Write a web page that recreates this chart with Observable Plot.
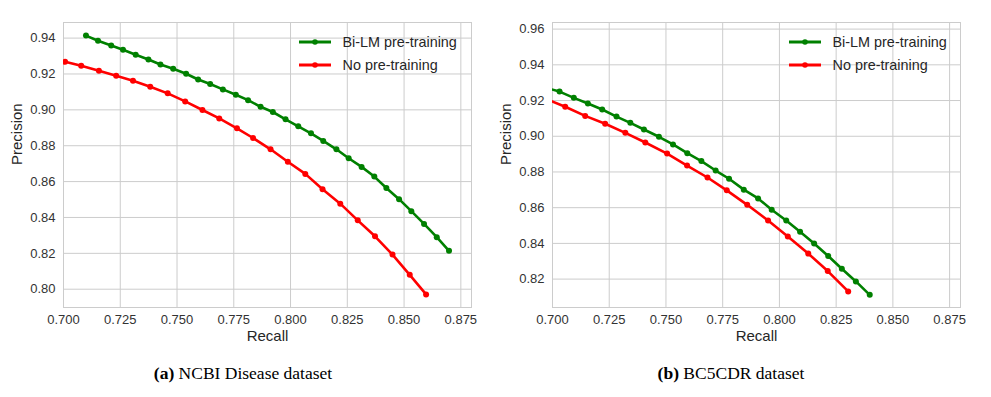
<!DOCTYPE html>
<html>
<head>
<meta charset="utf-8">
<script src="https://cdn.jsdelivr.net/npm/d3@7"></script>
<script src="https://cdn.jsdelivr.net/npm/@observablehq/plot@0.6"></script>
<style>
  body { margin: 0; background: #fff; }
  #wrap { position: relative; width: 991px; height: 397px; font-family: "Liberation Sans", Arial, sans-serif; overflow: hidden; }
  .panel { position: absolute; top: 0; }
  .leg-text { position: absolute; font-size: 14.4px; line-height: 18px; color: #262626; white-space: nowrap; }
  .leg-svg { position: absolute; overflow: visible; }
  .caption { position: absolute; font-family: "Liberation Serif", "Times New Roman", serif; font-size: 17.5px; color: #000; white-space: nowrap; transform: translateX(-50%); }
</style>
</head>
<body>
<div id="wrap"></div>
<script>
// ---- tick labels ----
const xTicks = [0.700, 0.725, 0.750, 0.775, 0.800, 0.825, 0.850, 0.875];
const yTicksNCBI = [0.80, 0.82, 0.84, 0.86, 0.88, 0.90, 0.92, 0.94];
const yTicksBC5 = [0.82, 0.84, 0.86, 0.88, 0.90, 0.92, 0.94, 0.96];

// ---- series names / colours ----
const seriesNames = ["Bi-LM pre-training", "No pre-training"];
const seriesColors = ["green", "red"];

// ---- (a) NCBI Disease dataset ----
const ncbiBiLMRecall = [0.7099, 0.7152, 0.7210, 0.7262, 0.7318, 0.7374, 0.7427, 0.7483, 0.7540, 0.7593,
  0.7646, 0.7702, 0.7759, 0.7813, 0.7868, 0.7922, 0.7978, 0.8034, 0.8090, 0.8144,
  0.8202, 0.8256, 0.8313, 0.8369, 0.8422, 0.8478, 0.8532, 0.8588, 0.8644, 0.8698];
const ncbiBiLMPrecision = [0.9414, 0.9385, 0.9359, 0.9335, 0.9307, 0.9281, 0.9253, 0.9229, 0.9201, 0.9169,
  0.9144, 0.9114, 0.9084, 0.9054, 0.9017, 0.8988, 0.8947, 0.8908, 0.8869, 0.8827,
  0.8780, 0.8730, 0.8682, 0.8628, 0.8564, 0.8502, 0.8435, 0.8364, 0.8290, 0.8214];
const ncbiNoPreRecall = [0.6930, 0.7007, 0.7078, 0.7156, 0.7232, 0.7306, 0.7382, 0.7459, 0.7536, 0.7612, 0.7686,
  0.7764, 0.7835, 0.7912, 0.7988, 0.8065, 0.8141, 0.8219, 0.8296, 0.8372, 0.8449, 0.8525, 0.8597];
const ncbiNoPrePrecision = [0.9291, 0.9268, 0.9246, 0.9218, 0.9190, 0.9162, 0.9129, 0.9092, 0.9047, 0.8999, 0.8952,
  0.8897, 0.8843, 0.8780, 0.8711, 0.8643, 0.8557, 0.8477, 0.8384, 0.8295, 0.8193, 0.8080, 0.7971];

// ---- (b) BC5CDR dataset ----
const bc5BiLMRecall = [0.6969, 0.7031, 0.7094, 0.7156, 0.7219, 0.7282, 0.7343, 0.7403, 0.7469, 0.7531, 0.7594,
  0.7656, 0.7719, 0.7778, 0.7843, 0.7906, 0.7966, 0.8030, 0.8091, 0.8153, 0.8215, 0.8275, 0.8337, 0.8398];
const bc5BiLMPrecision = [0.9272, 0.9250, 0.9215, 0.9183, 0.9150, 0.9110, 0.9075, 0.9038, 0.8997, 0.8954, 0.8905,
  0.8861, 0.8808, 0.8762, 0.8701, 0.8652, 0.8588, 0.8528, 0.8465, 0.8399, 0.8329, 0.8258, 0.8187, 0.8112];
const bc5NoPreRecall = [0.6968, 0.7056, 0.7144, 0.7232, 0.7321, 0.7409, 0.7505, 0.7593, 0.7683, 0.7768,
  0.7858, 0.7950, 0.8037, 0.8127, 0.8213, 0.8303];
const bc5NoPrePrecision = [0.9211, 0.9165, 0.9114, 0.9070, 0.9019, 0.8965, 0.8903, 0.8836, 0.8769, 0.8697,
  0.8616, 0.8528, 0.8439, 0.8343, 0.8245, 0.8131];

const captions = [["(a)", " NCBI Disease dataset"], ["(b)", " BC5CDR dataset"]];

function rows(r, p) { return r.map((v, i) => ({recall: v, precision: p[i]})); }

function panel({width, marginLeft, marginRight, xDomain, yDomain, yTicks, series}) {
  const marks = [
    Plot.ruleX(xTicks, {x: d => d, stroke: "#cccccc", strokeWidth: 1}),
    Plot.ruleY(yTicks, {y: d => d, stroke: "#cccccc", strokeWidth: 1}),
    Plot.frame({stroke: "#cccccc", strokeWidth: 1})
  ];
  series.forEach((s, i) => {
    marks.push(Plot.line(s, {x: "recall", y: "precision", stroke: seriesColors[i], strokeWidth: 2.6, clip: true}));
    marks.push(Plot.dot(s, {x: "recall", y: "precision", fill: seriesColors[i], r: 3, clip: true}));
  });
  marks.push(Plot.text(["Recall"], {text: d => d, frameAnchor: "bottom", dy: 33, fontSize: 15, fill: "#262626"}));
  marks.push(Plot.text(["Precision"], {text: d => d, frameAnchor: "left", dx: -46, rotate: -90, fontSize: 15, fill: "#262626"}));
  return Plot.plot({
    width, height: 345,
    marginLeft, marginRight, marginTop: 22, marginBottom: 38,
    style: {fontFamily: "'Liberation Sans', Arial, sans-serif", fontSize: "13px", color: "#333", background: "transparent", overflow: "visible"},
    x: {domain: xDomain, ticks: xTicks, tickFormat: d3.format(".3f"), tickSize: 0, tickPadding: 7, label: null},
    y: {domain: yDomain, ticks: yTicks, tickFormat: d3.format(".2f"), tickSize: 0, tickPadding: 8, label: null},
    marks
  });
}

const wrap = document.getElementById("wrap");

const panels = [
  {left: 0, width: 495, marginLeft: 63, marginRight: 24, xDomain: [0.700, 0.8797], yDomain: [0.7898, 0.9487], yTicks: yTicksNCBI,
   series: [rows(ncbiBiLMRecall, ncbiBiLMPrecision), rows(ncbiNoPreRecall, ncbiNoPrePrecision)],
   legendX: 299, capX: 243},
  {left: 495, width: 496, marginLeft: 57, marginRight: 31, xDomain: [0.700, 0.8798], yDomain: [0.8041, 0.9637], yTicks: yTicksBC5,
   series: [rows(bc5BiLMRecall, bc5BiLMPrecision), rows(bc5NoPreRecall, bc5NoPrePrecision)],
   legendX: 789, capX: 731}
];

panels.forEach((p, k) => {
  const div = document.createElement("div");
  div.className = "panel";
  div.style.left = p.left + "px";
  div.appendChild(panel(p));
  wrap.appendChild(div);

  // legend
  seriesNames.forEach((name, i) => {
    const y = 42.3 + i * 22.7;
    const svg = document.createElementNS("http://www.w3.org/2000/svg", "svg");
    svg.setAttribute("class", "leg-svg");
    svg.setAttribute("width", 33);
    svg.setAttribute("height", 10);
    svg.style.left = p.legendX + "px";
    svg.style.top = (y - 5) + "px";
    svg.innerHTML = `<line x1="0" x2="32" y1="5" y2="5" stroke="${seriesColors[i]}" stroke-width="3"/>` +
      `<circle cx="16" cy="5" r="2.8" fill="${seriesColors[i]}"/>`;
    wrap.appendChild(svg);
    const t = document.createElement("div");
    t.className = "leg-text";
    t.textContent = name;
    t.style.left = (p.legendX + 43.5) + "px";
    t.style.top = (y - 9) + "px";
    wrap.appendChild(t);
  });

  // caption
  const c = document.createElement("div");
  c.className = "caption";
  c.style.left = p.capX + "px";
  c.style.top = "363px";
  c.innerHTML = `<b>${captions[k][0]}</b>${captions[k][1]}`;
  wrap.appendChild(c);
});
</script>
</body>
</html>
